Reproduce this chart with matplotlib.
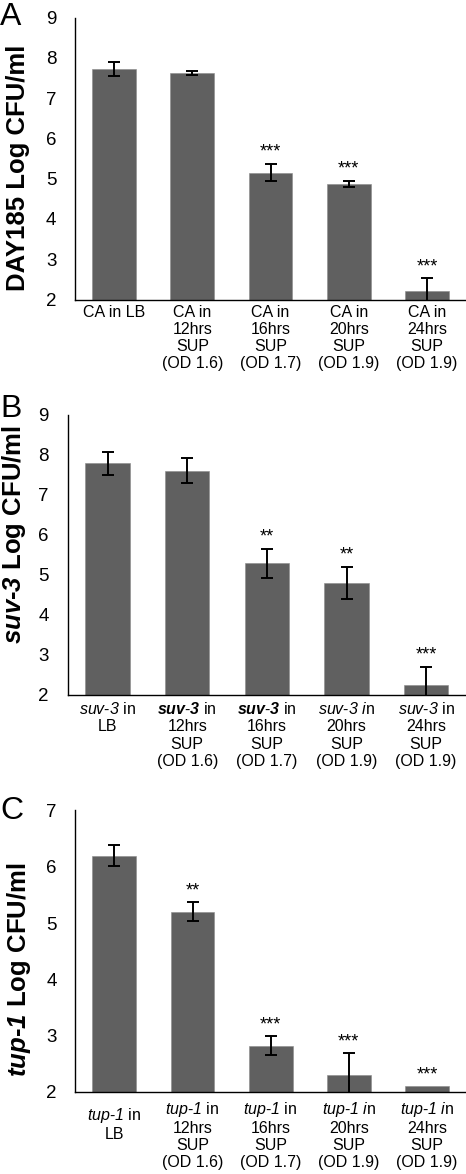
import matplotlib
matplotlib.use('Agg')
import matplotlib.pyplot as plt
import numpy as np

plt.rcParams['font.family'] = ['Liberation Sans', 'DejaVu Sans']
# all math pieces are only used for the italic gene names
plt.rcParams['mathtext.fontset'] = 'custom'
plt.rcParams['mathtext.rm'] = 'Liberation Sans:italic'
plt.rcParams['mathtext.it'] = 'Liberation Sans:italic'
plt.rcParams['mathtext.bf'] = 'Liberation Sans:italic:bold'

# ---- data
a_labels = ['CA in LB',
            'CA in\n12hrs\nSUP\n(OD 1.6)',
            'CA in\n16hrs\nSUP\n(OD 1.7)',
            'CA in\n20hrs\nSUP\n(OD 1.9)',
            'CA in\n24hrs\nSUP\n(OD 1.9)']
a_vals = [7.72, 7.62, 5.15, 4.87, 2.21]
a_err = [0.17, 0.05, 0.22, 0.08, 0.32]
a_stars = ['', '', '***', '***', '***']

b_labels = [r'$\mathrm{suv}$-$\mathrm{3}$ in' + '\nLB',
            r'$\mathbf{suv}$-$\mathbf{3}$ in' + '\n12hrs\nSUP\n(OD 1.6)',
            r'$\mathbf{suv}$-$\mathbf{3}$ in' + '\n16hrs\nSUP\n(OD 1.7)',
            r'$\mathrm{suv}$-$\mathrm{3\ i}$n' + '\n20hrs\nSUP\n(OD 1.9)',
            r'$\mathrm{suv}$-$\mathrm{3}$ in' + '\n24hrs\nSUP\n(OD 1.9)']
b_vals = [7.78, 7.60, 5.28, 4.79, 2.24]
b_err = [0.28, 0.32, 0.37, 0.41, 0.46]
b_stars = ['', '', '**', '**', '***']

c_labels = [r'$\mathrm{tup}$-$\mathrm{1}$ in' + '\nLB',
            r'$\mathrm{tup}$-$\mathrm{1}$ in' + '\n12hrs\nSUP\n(OD 1.6)',
            r'$\mathrm{tup}$-$\mathrm{1}$ in' + '\n16hrs\nSUP\n(OD 1.7)',
            r'$\mathrm{tup}$-$\mathrm{1\ i}$n' + '\n20hrs\nSUP\n(OD 1.9)',
            r'$\mathrm{tup}$-$\mathrm{1\ i}$n' + '\n24hrs\nSUP\n(OD 1.9)']
c_vals = [6.20, 5.20, 2.82, 2.30, 2.11]
c_err = [0.19, 0.17, 0.17, 0.39, 0.0]
c_stars = ['', '**', '***', '***', '***']

fig = plt.figure(figsize=(4.66, 11.74), dpi=100)
W, H = 466.0, 1174.0
LS = 1.17


def panel(rect_px, labels, vals, err, stars, ylim, ylabel, letter, letter_base,
          xpad, lab_xy, first_drop=0):
    left, top, right, bottom = rect_px
    ax = fig.add_axes([left / W, 1 - bottom / H, (right - left) / W, (bottom - top) / H])
    x = np.arange(len(vals))
    ax.bar(x, vals, width=0.56, bottom=0, color='#606060', edgecolor='#8a8a8a',
           linewidth=0.4, zorder=2)
    err = np.array(err)
    m = err > 0
    ax.errorbar(x[m], np.array(vals)[m], yerr=err[m], fmt='none', ecolor='black',
                elinewidth=1.4, capsize=4, capthick=1.4, zorder=3)
    for xi, v, e, s in zip(x, vals, err, stars):
        if s:
            ax.annotate(s, (xi, v + e), xytext=(0, 2), textcoords='offset points',
                        ha='center', va='bottom', fontsize=13)
    ax.set_xlim(-0.5, len(vals) - 0.5)
    ax.set_ylim(*ylim)
    ax.set_yticks(np.arange(ylim[0], ylim[1] + 1))
    ax.set_xticks(x)
    ticklabs = list(labels)
    if first_drop:
        # this one label is printed a bit lower than the others
        ticklabs[0] = ''
        ax.annotate(labels[0], (0, 0), xycoords=ax.get_xaxis_transform(),
                    xytext=(0, -(xpad + first_drop)), textcoords='offset points',
                    ha='center', va='top', fontsize=11.5, linespacing=LS)
    ax.set_xticklabels(ticklabs, fontsize=11.5, linespacing=LS)
    ax.tick_params(axis='y', length=0, pad=13.5, labelsize=13.5)
    ax.tick_params(axis='x', length=0, pad=xpad)
    for sp in ['top', 'right']:
        ax.spines[sp].set_visible(False)
    ax.spines['left'].set_linewidth(1.0)
    ax.spines['bottom'].set_linewidth(1.0)
    ax.set_ylabel(ylabel, fontsize=18.5, fontweight='bold')
    ax.yaxis.label.set_va('center')
    ax.yaxis.set_label_coords(*lab_xy)
    fig.text(0.0, 1 - letter_base / H, letter, fontsize=23, va='baseline', ha='left')
    return ax


panel((75, 17.5, 466, 299.5), a_labels, a_vals, a_err, a_stars, (2, 9),
      'DAY185 Log CFU/ml', 'A', 25, 4.0, (-0.146, 0.466))
panel((67.7, 414.5, 466, 694.5), b_labels, b_vals, b_err, b_stars, (2, 9),
      r'$\mathbf{suv}$-$\mathbf{3}$ Log CFU/ml', 'B', 417, 5.0, (-0.135, 0.57))
panel((75.3, 810.5, 466, 1092), c_labels, c_vals, c_err, c_stars, (2, 7),
      r'$\mathbf{tup}$-$\mathbf{1}$ Log CFU/ml', 'C', 819, 6.0, (-0.144, 0.433),
      first_drop=4.3)

fig.savefig('out.png', dpi=100)
